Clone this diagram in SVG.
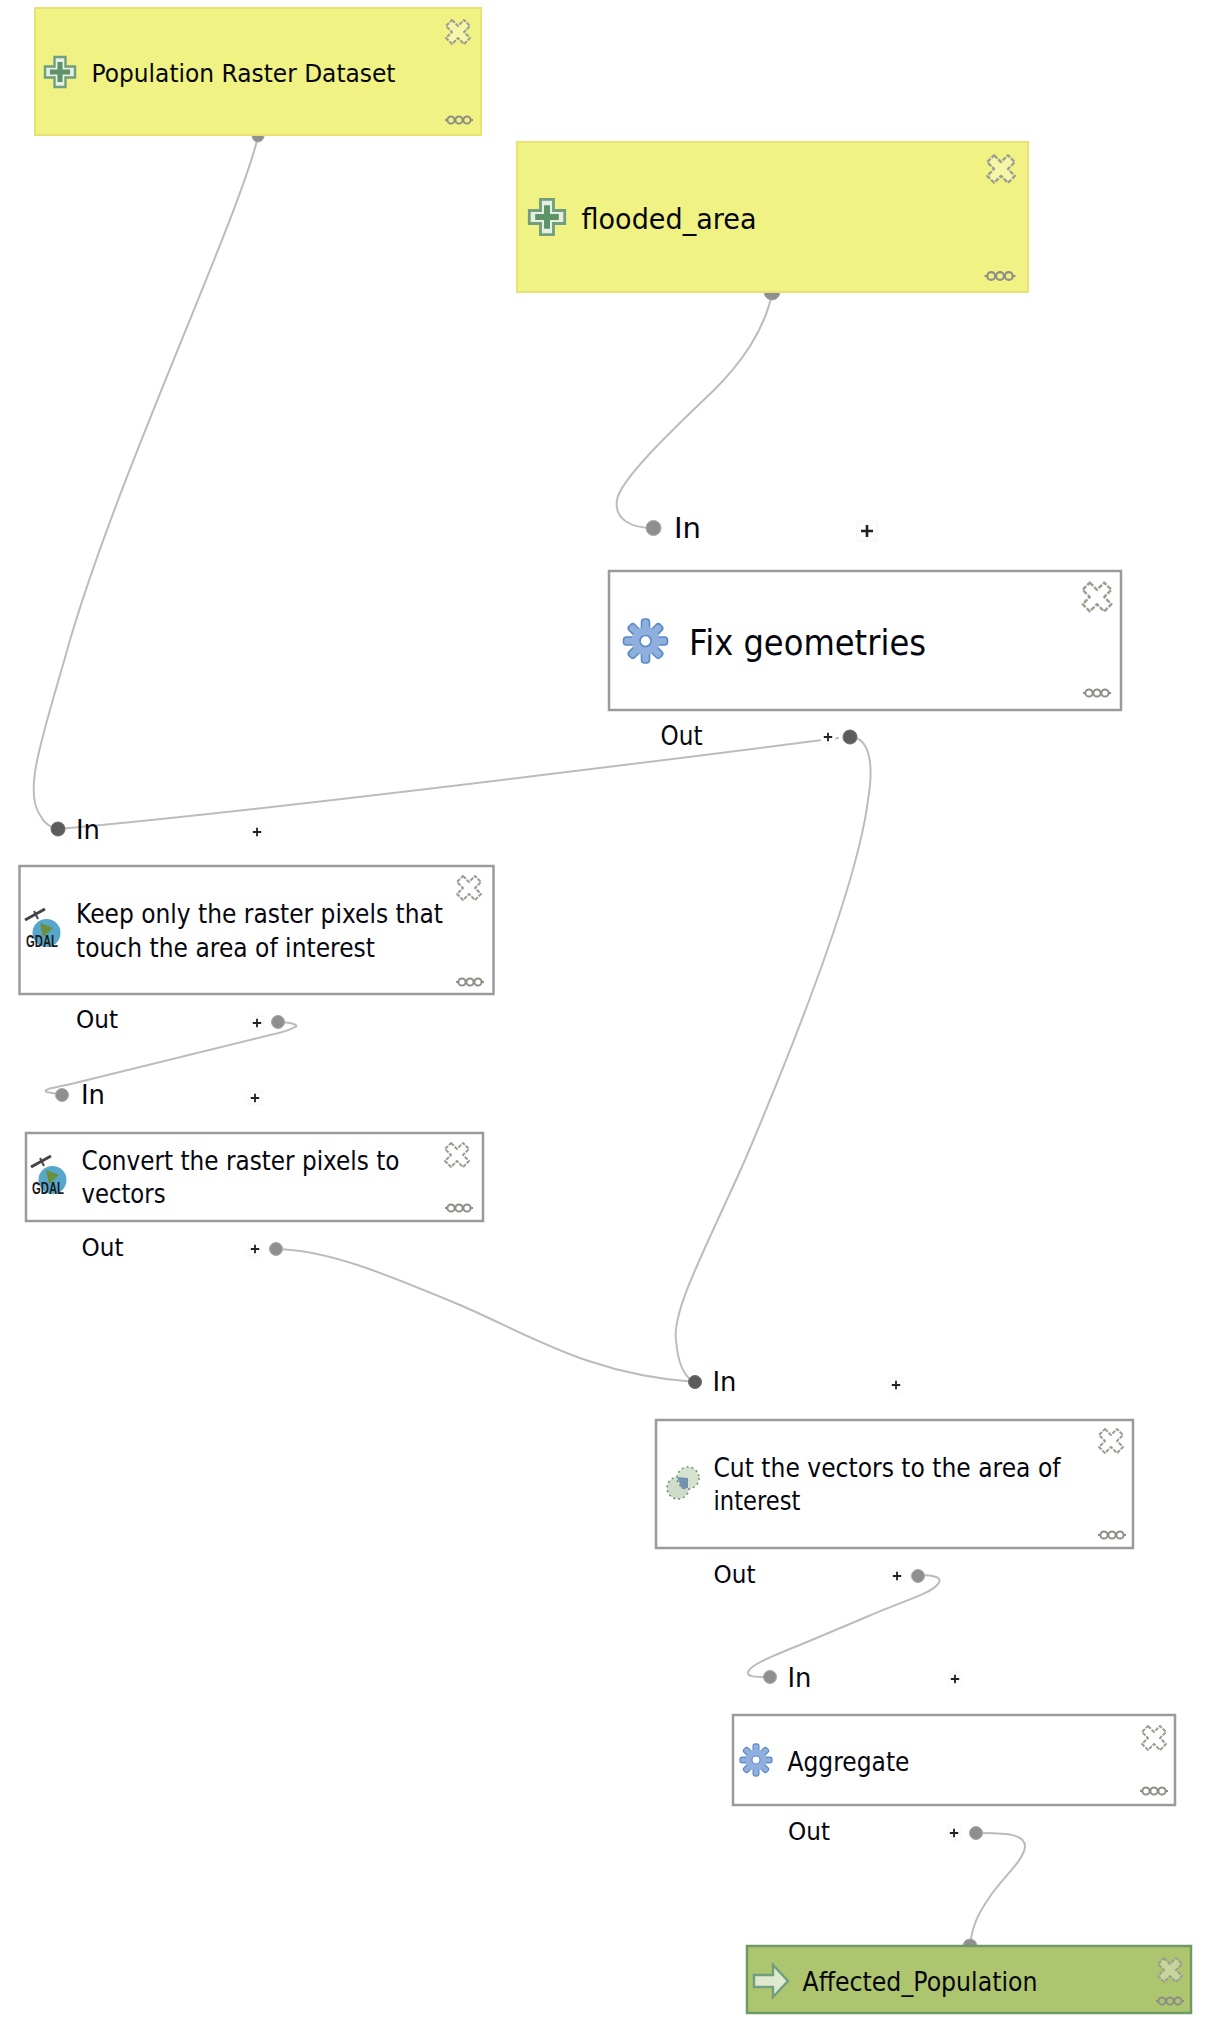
<svg xmlns="http://www.w3.org/2000/svg" xmlns:xlink="http://www.w3.org/1999/xlink" width="1224" height="2019" viewBox="0 0 1224 2019">
<style>
.t{font-family:"DejaVu Sans","Liberation Sans",sans-serif;fill:#06060f}
.box{fill:#fff;stroke:#9a9a9e;stroke-width:2.5}
.par{fill:#f0f283;stroke:#e6e274;stroke-width:2}
.out{fill:#aec56f;stroke:#6f9a68;stroke-width:2.5}
.edge{fill:none;stroke:#bcbcbc;stroke-width:2;stroke-linecap:round}
.port{fill:#8f8f8f;stroke:#a8a8a8;stroke-width:1}
.dark{fill:#5c5c5c;stroke:#6a6a6a;stroke-width:1}
.cl{fill:#fff;fill-opacity:.3;stroke:#9c9c90;stroke-width:2;stroke-linejoin:round;stroke-dasharray:4 1.2}
.mr{fill:none;stroke:#8e8e86;stroke-width:2}
.pb{fill:#fdfdfd;stroke:#f3f3f3;stroke-width:1}
.pl{stroke:#222;stroke-width:2.6;fill:none}
</style>
<defs>
<g id="close"><path class="cl" d="M-6,-12 L0,-6 L6,-12 L12,-6 L6,0 L12,6 L6,12 L0,6 L-6,12 L-12,6 L-6,0 L-12,-6 Z"/></g>
<g id="more"><path class="mr" d="M-14,0H-12M12,0H14"/><circle class="mr" cx="-8" cy="0" r="3.6"/><circle class="mr" cx="0" cy="0" r="3.6"/><circle class="mr" cx="8" cy="0" r="3.6"/></g>
<g id="plus"><rect class="pb" x="-10" y="-10" width="20" height="20" rx="2"/><path class="pl" d="M-6,0H6M0,-6V6"/></g>
<g id="cross"><path d="M-5.5,-15H5.5V-5.5H15V5.5H5.5V15H-5.5V5.5H-15V-5.5H-5.5Z" fill="#e6efe0" stroke="#6f9f7c" stroke-width="2.4"/><path d="M-2.5,-10H2.5V-2.5H10V2.5H2.5V10H-2.5V2.5H-10V-2.5H-2.5Z" fill="#5e9268"/></g>
<g id="gear"><g fill="#8fb0de" stroke="#5a89c8" stroke-width="1.6"><rect x="-4" y="-22" width="8" height="44" rx="3"/><rect x="-4" y="-22" width="8" height="44" rx="3" transform="rotate(45)"/><rect x="-4" y="-22" width="8" height="44" rx="3" transform="rotate(90)"/><rect x="-4" y="-22" width="8" height="44" rx="3" transform="rotate(135)"/></g><circle r="14" fill="#8fb0de"/><circle r="5.5" fill="#fff" stroke="#5a89c8" stroke-width="1.6"/></g>
<g id="gdal"><path d="M-18,-13L2,-24" stroke="#444" stroke-width="3"/><path d="M-9,-22L-5,-14" stroke="#444" stroke-width="2"/><circle cx="3.500" cy="0" r="14" fill="#56a7c9"/><path d="M-3,-10L10,-5L0,4Z" fill="#6d8f3c"/><text x="-17" y="14" font-family="'Liberation Sans',sans-serif" font-weight="700" font-size="16" fill="#1a1a1a" textLength="32" lengthAdjust="spacingAndGlyphs">GDAL</text></g>
</defs>

<g id="connectors">
<path class="edge" d="M258,137 C236,225 120,470 70,640 C45,730 22,790 40,815 Q46,827 58,829"/>
<path class="edge" d="M772,293 C765,330 740,365 712,392 C670,432 620,480 617,500 C614,520 632,528 653,528"/>
<path class="edge" d="M58,829 C250,812 650,762 838,738"/>
<path class="edge" d="M850,737 C870,737 874,765 868,800 C858,880 800,1030 745,1160 C705,1250 672,1310 676,1340 C678,1365 685,1378 695,1382"/>
<path class="edge" d="M278,1022 C290,1022 300,1025 295,1027 C290,1030 285,1032 270,1035 L75,1083 C60,1087 40,1089 47,1092 L62,1095"/>
<path class="edge" d="M276,1249 C330,1250 390,1276 460,1305 C530,1335 590,1375 695,1382"/>
<path class="edge" d="M918,1575 C936,1575 943,1578 938,1584 C930,1594 908,1599 864,1618 L807,1642 C780,1653 750,1664 748,1672 C747,1677 755,1677 770,1677"/>
<path class="edge" d="M976,1833 C1003,1833 1026,1833 1025,1847 C1023,1862 1000,1880 989,1898 C975,1918 972,1930 970,1945"/>
</g>

<g id="node-population">
<circle class="port" cx="258" cy="136" r="6"/>
<rect class="par" x="35" y="8" width="446" height="127"/>
<use xlink:href="#cross" href="#cross" transform="translate(60,72)"/>
<text class="t" x="91.500" y="82" font-size="25" textLength="304" lengthAdjust="spacingAndGlyphs">Population Raster Dataset</text>
<use href="#close" transform="translate(458,32)"/>
<use href="#more" transform="translate(459,120)"/>
</g>

<g id="node-flooded">
<circle class="port" cx="772" cy="292" r="8"/>
<rect class="par" x="517" y="142" width="511" height="150"/>
<use href="#cross" transform="translate(547,217) scale(1.18)"/>
<text class="t" x="581.500" y="229" font-size="29" textLength="175" lengthAdjust="spacingAndGlyphs">flooded_area</text>
<use href="#close" transform="translate(1001,169) scale(1.15)"/>
<use href="#more" transform="translate(1000,276) scale(1.1)"/>
</g>

<g id="node-fix">
<circle class="port" cx="653.500" cy="528" r="7.5"/>
<text class="t" x="674" y="538" font-size="28" textLength="27" lengthAdjust="spacingAndGlyphs">In</text>
<use href="#plus" transform="translate(867,531)"/>
<rect class="box" x="609" y="571" width="512" height="139"/>
<use href="#gear" transform="translate(645.5,641)"/>
<text class="t" x="689" y="655" font-size="36" textLength="237" lengthAdjust="spacingAndGlyphs">Fix geometries</text>
<use href="#close" transform="translate(1097,597) scale(1.2)"/>
<use href="#more" transform="translate(1097,693)"/>
<text class="t" x="660.500" y="745" font-size="26" textLength="42" lengthAdjust="spacingAndGlyphs">Out</text>
<use href="#plus" transform="translate(828,737) scale(.7)"/>
<circle class="dark" cx="850" cy="737" r="7"/>
</g>

<g id="node-keep">
<circle class="dark" cx="58" cy="829" r="7"/>
<text class="t" x="76" y="839" font-size="27" textLength="24" lengthAdjust="spacingAndGlyphs">In</text>
<use href="#plus" transform="translate(257,832) scale(.7)"/>
<rect class="box" x="19.500" y="866" width="474" height="128"/>
<use href="#gdal" transform="translate(43,933)"/>
<text class="t" x="76" y="923" font-size="26.500" textLength="367" lengthAdjust="spacingAndGlyphs">Keep only the raster pixels that</text>
<text class="t" x="76" y="957" font-size="26.500" textLength="299" lengthAdjust="spacingAndGlyphs">touch the area of interest</text>
<use href="#close" transform="translate(469,888)"/>
<use href="#more" transform="translate(470,982)"/>
<text class="t" x="76" y="1028" font-size="25" textLength="42" lengthAdjust="spacingAndGlyphs">Out</text>
<use href="#plus" transform="translate(257,1023) scale(.7)"/>
<circle class="port" cx="278" cy="1022" r="6.500"/>
</g>

<g id="node-convert">
<circle class="port" cx="62" cy="1095" r="6.500"/>
<text class="t" x="81" y="1104" font-size="27" textLength="24" lengthAdjust="spacingAndGlyphs">In</text>
<use href="#plus" transform="translate(255,1098) scale(.7)"/>
<rect class="box" x="26" y="1133" width="457" height="88"/>
<use href="#gdal" transform="translate(49,1180)"/>
<text class="t" x="81.500" y="1170" font-size="26.500" textLength="318" lengthAdjust="spacingAndGlyphs">Convert the raster pixels to</text>
<text class="t" x="81.500" y="1203" font-size="26.500" textLength="84" lengthAdjust="spacingAndGlyphs">vectors</text>
<use href="#close" transform="translate(457,1155)"/>
<use href="#more" transform="translate(459,1208)"/>
<text class="t" x="81.500" y="1256" font-size="25" textLength="42" lengthAdjust="spacingAndGlyphs">Out</text>
<use href="#plus" transform="translate(255,1249) scale(.7)"/>
<circle class="port" cx="276" cy="1249" r="6.500"/>
</g>

<g id="node-cut">
<circle class="dark" cx="695" cy="1382" r="6.500"/>
<text class="t" x="712.500" y="1391" font-size="27" textLength="24" lengthAdjust="spacingAndGlyphs">In</text>
<use href="#plus" transform="translate(896,1385) scale(.7)"/>
<rect class="box" x="656" y="1420" width="477" height="128"/>
<circle cx="678" cy="1488" r="11" fill="#cfdccb" stroke="#6f8f70" stroke-width="1.500" stroke-dasharray="2 3"/>
<circle cx="688" cy="1478" r="11" fill="#d6e2d0" stroke="#6f8f70" stroke-width="1.500" stroke-dasharray="2 3"/>
<path d="M677,1477 L688,1478 L688,1488 L682,1489 Z" fill="#6f93b0"/>
<text class="t" x="713.500" y="1477" font-size="26.500" textLength="347" lengthAdjust="spacingAndGlyphs">Cut the vectors to the area of</text>
<text class="t" x="713.500" y="1510" font-size="26.500" textLength="87" lengthAdjust="spacingAndGlyphs">interest</text>
<use href="#close" transform="translate(1111,1441)"/>
<use href="#more" transform="translate(1112,1535)"/>
<text class="t" x="713.500" y="1583" font-size="25" textLength="42" lengthAdjust="spacingAndGlyphs">Out</text>
<use href="#plus" transform="translate(897,1576) scale(.7)"/>
<circle class="port" cx="918" cy="1576" r="6.500"/>
</g>

<g id="node-aggregate">
<circle class="port" cx="770" cy="1677" r="6.500"/>
<text class="t" x="787.500" y="1687" font-size="27" textLength="24" lengthAdjust="spacingAndGlyphs">In</text>
<use href="#plus" transform="translate(955,1679) scale(.7)"/>
<rect class="box" x="733" y="1715" width="442" height="90"/>
<use href="#gear" transform="translate(756,1760) scale(.73)"/>
<text class="t" x="787.500" y="1771" font-size="26.500" textLength="122" lengthAdjust="spacingAndGlyphs">Aggregate</text>
<use href="#close" transform="translate(1154,1738)"/>
<use href="#more" transform="translate(1154,1791)"/>
<text class="t" x="788" y="1840" font-size="25" textLength="42" lengthAdjust="spacingAndGlyphs">Out</text>
<use href="#plus" transform="translate(954,1833) scale(.7)"/>
<circle class="port" cx="976" cy="1833" r="6.500"/>
</g>

<g id="node-affected">
<circle class="port" cx="970" cy="1946" r="7"/>
<rect class="out" x="747" y="1946" width="444" height="67"/>
<path d="M-17,-6H2V-16L17,0L2,16V6H-17Z" transform="translate(771,1981)" fill="#dfe9cf" stroke="#6f9f7c" stroke-width="2.400"/>
<text class="t" x="802.500" y="1991" font-size="26" textLength="235" lengthAdjust="spacingAndGlyphs">Affected_Population</text>
<use href="#close" transform="translate(1170,1970)"/>
<use href="#more" transform="translate(1170,2001)"/>
</g>
</svg>
